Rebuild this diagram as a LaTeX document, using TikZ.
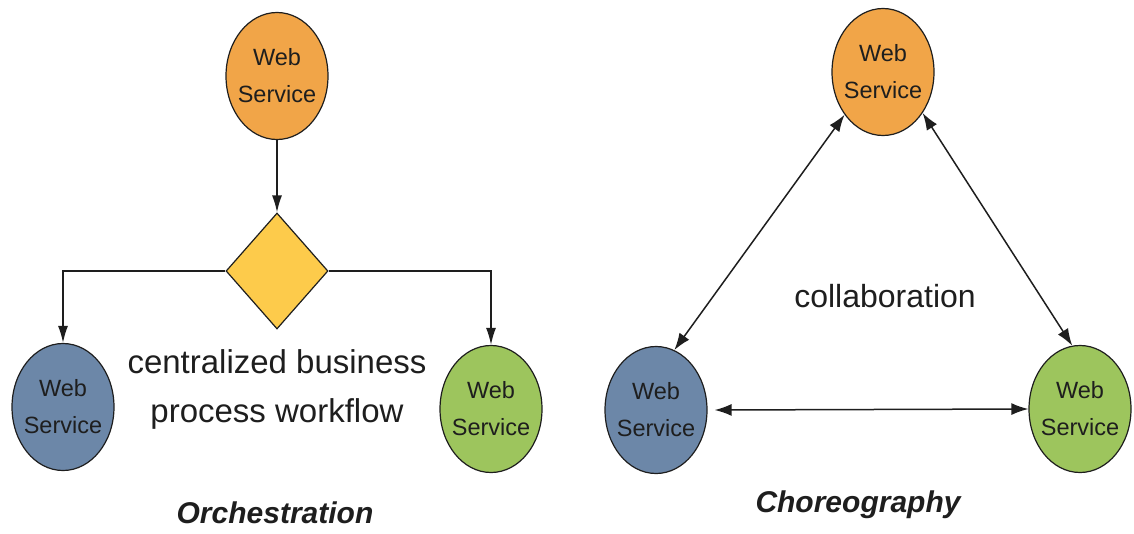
\documentclass[tikz,border=0pt]{standalone}
\usepackage{fontspec}
\setmainfont{Liberation Sans}
\usetikzlibrary{shapes.geometric,arrows.meta}

\definecolor{wsorange}{RGB}{241,165,72}
\definecolor{wsblue}{RGB}{108,135,168}
\definecolor{wsgreen}{RGB}{157,197,93}
\definecolor{gateyellow}{RGB}{253,203,75}
\definecolor{inkdark}{RGB}{30,30,30}

\tikzset{
  wsnode/.style={ellipse, draw=inkdark, line width=1.2pt,
    minimum width=102pt, minimum height=127pt, inner sep=0pt,
    label={[font=\fontsize{23.5}{37}\selectfont, align=center, text=inkdark]center:Web\\Service}},
  gate/.style={diamond, draw=inkdark, line width=1.2pt, fill=gateyellow,
    minimum width=102pt, minimum height=116pt, inner sep=0pt},
  flow/.style={draw=inkdark, line width=1.5pt, -{Latex[length=17pt,width=10pt]}},
  mutual/.style={draw=inkdark, line width=1.5pt,
    {Latex[length=17pt,width=12pt]}-{Latex[length=17pt,width=12pt]}},
  caption/.style={font=\fontsize{30}{36}\selectfont\bfseries\itshape, text=inkdark},
  note/.style={text=inkdark, align=center},
}

\begin{document}
\begin{tikzpicture}[x=1pt, y=-1pt]
  \useasboundingbox (0,0) rectangle (1134,533);

  % Orchestration: one coordinator dispatching to two services
  \node[wsnode, fill=wsorange] (otop)   at (277,76)  {};
  \node[gate]                  (gw)     at (277,271) {};
  \node[wsnode, fill=wsblue]   (oleft)  at (63,407)  {};
  \node[wsnode, fill=wsgreen]  (oright) at (491,409) {};

  \draw[flow] (otop.south) -- (gw.north);
  \draw[flow] (gw.west) -| (oleft.north);
  \draw[flow] (gw.east) -| (oright.north);

  \node[note, font=\fontsize{33}{49}\selectfont] (wf) at (277,389)
    {centralized business\\process workflow};
  \node[caption, anchor=base] (orch) at (275,523) {Orchestration};

  % Choreography: peers talking to each other
  \node[wsnode, fill=wsorange] (ctop)   at (883,72)  {};
  \node[wsnode, fill=wsblue]   (cleft)  at (656,410) {};
  \node[wsnode, fill=wsgreen]  (cright) at (1080,409) {};

  \draw[mutual] (ctop.228) -- (cleft.73);
  \draw[mutual] (ctop.314) -- (cright.97);
  \draw[mutual] ([xshift=7pt]cleft.east) -- (cright.west);

  \node[note, font=\fontsize{32}{38}\selectfont, anchor=base] (collab) at (885,307) {collaboration};
  \node[caption, anchor=base] (chor) at (858,512) {Choreography};
\end{tikzpicture}
\end{document}
